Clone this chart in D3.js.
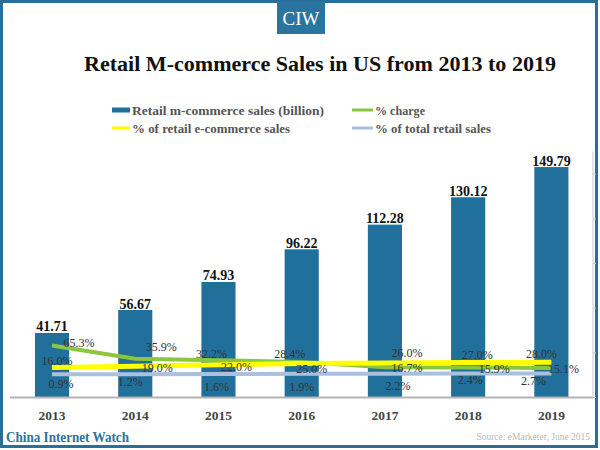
<!DOCTYPE html>
<html>
<head>
<meta charset="utf-8">
<script src="https://cdn.jsdelivr.net/npm/d3@7"></script>
<style>
html,body{margin:0;padding:0;background:#fff;}
svg{display:block;}
</style>
</head>
<body>
<svg id="chart" width="600" height="450"></svg>
<script>
// ---- data ----
const years = ["2013","2014","2015","2016","2017","2018","2019"];
const mcommerceSales = [41.71, 56.67, 74.93, 96.22, 112.28, 130.12, 149.79];
const pctChange = [65.3, 35.9, 32.2, 28.4, 16.7, 15.9, 15.1];
const pctRetailEcommerce = [16.0, 19.0, 22.0, 25.0, 26.0, 27.0, 28.0];
const pctTotalRetail = [0.9, 1.2, 1.6, 1.9, 2.2, 2.4, 2.7];
const rightTicks = [-50, 50, 150, 250, 350, 450];

// ---- layout (label nudges, px) ----
const nudgeChange = [[27,-3],[26,-12],[-7,-6],[-12,-8],[22,1],[26,1],[12,1]];
const nudgeRetailE = [[5,-7],[22,2],[18,2],[10,5],[22,-10],[9,-8],[-10,-8]];
const nudgeTotal = [[9,10],[-5,8],[-2,13],[0,13],[13,12],[2,6],[-18,7]];

const svg = d3.select("#chart");
const serif = "'Liberation Serif', 'DejaVu Serif', serif";
const blue = "#21709b";

// frame
svg.append("rect").attr("x",1.5).attr("y",1.5).attr("width",595).attr("height",445)
  .attr("fill","none").attr("stroke","#2a6f9a").attr("stroke-width",3);

// CIW badge
svg.append("rect").attr("x",277).attr("y",2).attr("width",48).attr("height",32).attr("fill","#2a74a0");
svg.append("text").attr("x",301).attr("y",25).attr("text-anchor","middle")
  .attr("font-family",serif).attr("font-size",19).attr("fill","#fff").text("CIW");

// title
svg.append("text").attr("x",84).attr("y",71)
  .attr("font-family",serif).attr("font-weight","bold").attr("font-size",21)
  .attr("fill","#111").attr("textLength",472).attr("lengthAdjust","spacingAndGlyphs")
  .text("Retail M-commerce Sales in US from 2013 to 2019");

// scales
const x = d3.scaleBand().domain(years).range([10.4, 593]).paddingInner(0.59).paddingOuter(0.295);
const y = d3.scaleLinear().domain([0,160]).range([397,151.4]);
const y2 = d3.scaleLinear().domain([-50,500]).range([397,151.4]);
const cx = d => x(d) + x.bandwidth()/2;

// right axis
const rAxis = svg.append("g").attr("transform","translate(593,0)")
  .call(d3.axisRight(y2).tickValues(rightTicks).tickSize(3).tickFormat(""));
rAxis.selectAll("path,line").attr("stroke","#c8c8c8");
rAxis.select(".domain").attr("d","M0,151.4V397");

// bars
svg.append("g").selectAll("rect").data(years).join("rect")
  .attr("x", d => x(d)).attr("width", x.bandwidth())
  .attr("y", (d,i) => y(mcommerceSales[i])).attr("height", (d,i) => y(0) - y(mcommerceSales[i]))
  .attr("fill", blue);

// baseline
svg.append("line").attr("x1",10).attr("x2",593).attr("y1",397.5).attr("y2",397.5)
  .attr("stroke","#b4b4b4").attr("stroke-width",2);

// bar labels
svg.append("g").selectAll("text").data(years).join("text")
  .attr("x", d => cx(d)).attr("y", (d,i) => y(mcommerceSales[i]) - 1.5)
  .attr("text-anchor","middle").attr("font-family",serif).attr("font-weight","bold")
  .attr("font-size",14).attr("fill","#111")
  .text((d,i) => mcommerceSales[i].toFixed(2));

// lines
const series = [
  {vals: pctChange, color: "#8cc63f", w: 4, nudge: nudgeChange},
  {vals: pctRetailEcommerce, color: "#ffff00", w: 5, nudge: nudgeRetailE},
  {vals: pctTotalRetail, color: "#a9c1de", w: 4, nudge: nudgeTotal}
];
const line = d3.line().x(d => cx(d.year)).y(d => y2(d.v));
series.forEach(s => {
  svg.append("path").datum(years.map((yr,i)=>({year:yr, v:s.vals[i]})))
    .attr("d", line).attr("fill","none").attr("stroke", s.color).attr("stroke-width", s.w);
});
series.forEach(s => {
  svg.append("g").selectAll("text").data(years).join("text")
    .attr("x", (d,i) => cx(d) + s.nudge[i][0])
    .attr("y", (d,i) => y2(s.vals[i]) + s.nudge[i][1])
    .attr("dy","0.35em").attr("text-anchor","middle")
    .attr("font-family",serif).attr("font-size",12).attr("fill","#333")
    .text((d,i) => s.vals[i].toFixed(1) + "%");
});

// x axis labels
svg.append("g").selectAll("text").data(years).join("text")
  .attr("x", d => cx(d)).attr("y", 420).attr("text-anchor","middle")
  .attr("font-family",serif).attr("font-weight","bold").attr("font-size",13.5).attr("fill","#444")
  .text(d => d);

// legend
const legend = [
  {label:"Retail m-commerce sales (billion)", color: blue, x:112, y:110, sw:18, h:5, tl:192},
  {label:"% charge", color:"#8cc63f", x:352, y:110, sw:21, h:3, tl:50},
  {label:"% of retail e-commerce sales", color:"#ffff00", x:112, y:128, sw:18, h:3, tl:158},
  {label:"% of total retail sales", color:"#a9c1de", x:352, y:128, sw:21, h:3, tl:116}
];
const lg = svg.append("g").selectAll("g").data(legend).join("g");
lg.append("rect").attr("x",d=>d.x).attr("y",d=>d.y-d.h/2).attr("width",d=>d.sw).attr("height",d=>d.h).attr("fill",d=>d.color);
lg.append("text").attr("x",d=>d.x+d.sw+2).attr("y",d=>d.y).attr("dy","0.35em")
  .attr("font-family",serif).attr("font-weight","bold").attr("font-size",13).attr("fill","#555")
  .attr("textLength",d=>d.tl).attr("lengthAdjust","spacingAndGlyphs")
  .text(d=>d.label);

// footer
svg.append("text").attr("x",6).attr("y",442)
  .attr("font-family",serif).attr("font-weight","bold").attr("font-size",14.5).attr("fill","#2a74a0")
  .attr("textLength",123).attr("lengthAdjust","spacingAndGlyphs")
  .text("China Internet Watch");
svg.append("text").attr("x",590).attr("y",440).attr("text-anchor","end")
  .attr("font-family",serif).attr("font-size",9.5).attr("fill","#b8b8b8")
  .text("Source: eMarketer, June 2015");
</script>
</body>
</html>
